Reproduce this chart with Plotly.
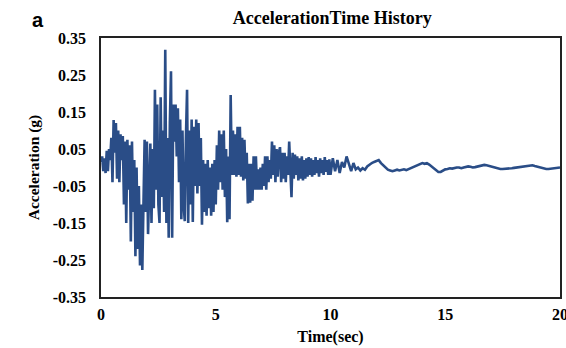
import plotly.graph_objects as go

# 0 - 10 s sampled every 0.05 s
acc_early = [
    0.015, 0.03, -0.01, 0.025, -0.015, 0.045, -0.01, 0.05, 0.02, 0.08,
    -0.04, 0.128, 0.04, 0.12, -0.03, 0.10, -0.04, 0.09, 0.02, 0.085,
    -0.10, 0.07, -0.15, 0.075, -0.06, 0.06, -0.20, 0.07, -0.12, 0.02,
    -0.24, 0.0, -0.22, -0.05, -0.265, -0.10, -0.277, -0.02, 0.075, -0.12,
    0.07, -0.18, 0.00, 0.065, -0.15, 0.05, -0.11, 0.21, -0.06, 0.17,
    -0.10, -0.15, 0.19, -0.08, 0.10, -0.12, 0.318, -0.15, 0.08, -0.19,
    0.12, 0.26, -0.19, 0.17, 0.07, 0.17, 0.03, 0.16, -0.04, 0.13,
    -0.14, 0.10, -0.10, -0.145, 0.08, 0.21, -0.15, 0.10, -0.10, 0.13,
    -0.147, 0.11, -0.05, 0.13, -0.07, 0.12, -0.05, 0.08, -0.155, 0.02,
    -0.12, 0.01, -0.13, 0.02, -0.11, 0.00, -0.13, 0.01, -0.12, 0.02,
    -0.10, 0.06, -0.06, 0.10, -0.04, 0.09, -0.06, 0.10, -0.08, 0.05,
    -0.148, 0.03, -0.14, 0.196, -0.02, 0.10, -0.02, 0.09, -0.025, 0.11,
    -0.02, 0.11, -0.025, 0.08, -0.035, 0.075, -0.03, 0.04, -0.097, 0.01,
    -0.095, 0.01, -0.09, 0.03, -0.06, 0.03, -0.06, -0.005, -0.06, 0.0,
    -0.06, 0.01, -0.05, 0.03, -0.06, 0.03, -0.04, 0.02, -0.03, 0.07,
    -0.02, 0.06, -0.04, 0.05, -0.025, 0.04, 0.055, -0.04, 0.04, -0.03,
    0.04, -0.04, 0.03, -0.02, 0.07, -0.03, -0.08, 0.04, -0.03, 0.035,
    -0.02, 0.03, -0.035, 0.025, -0.03, 0.03, -0.035, 0.02, -0.03, 0.025,
    -0.025, 0.028, -0.02, 0.025, -0.025, 0.02, -0.02, 0.028, -0.015, 0.02,
    -0.025, 0.025, -0.015, 0.02, -0.02, 0.028, -0.012, 0.02, -0.02, 0.022,
]
# 10 - 20 s sampled every 0.1 s
acc_late = [
    -0.02, 0.025, -0.01, 0.02, -0.015, 0.015, 0.0, 0.03, 0.01, -0.01,
    0.012, -0.005, 0.0, -0.008, -0.002, -0.006, 0.003, 0.008, 0.012, 0.015,
    0.018, 0.02, 0.012, 0.005, -0.002, -0.006, -0.008, -0.01, -0.008, -0.006,
    -0.008, -0.006, -0.005, -0.007, -0.004, -0.002, 0.0, 0.004, 0.008, 0.01,
    0.012, 0.01, 0.012, 0.008, 0.003, -0.003, -0.008, -0.012, -0.012, -0.008,
    -0.005, -0.004, -0.002, -0.003, -0.001, 0.0, 0.0, -0.002, 0.0, 0.002,
    0.003, 0.002, 0.0, 0.001, 0.003, 0.005, 0.006, 0.007, 0.006, 0.004,
    0.002, 0.0, -0.002, -0.003, -0.004, -0.004, -0.004, -0.004, -0.003, -0.002,
    -0.001, 0.0, 0.002, 0.003, 0.004, 0.005, 0.006, 0.006, 0.006, 0.004,
    0.002, 0.0, -0.002, -0.003, -0.004, -0.004, -0.003, -0.002, -0.001, 0.0,
    0.0,
]
dt_early = 0.05
dt_late = 0.1
time = [round(i * dt_early, 3) for i in range(len(acc_early))] + \
       [round(10.0 + j * dt_late, 3) for j in range(len(acc_late))]
acc = acc_early + acc_late

x_ticks = [0, 5, 10, 15, 20]
y_ticks = [0.35, 0.25, 0.15, 0.05, -0.05, -0.15, -0.25, -0.35]
y_tick_text = ["0.35", "0.25", "0.15", "0.05", "-0.05", "-0.15", "-0.25", "-0.35"]

serif = "Liberation Serif, Times New Roman, serif"

fig = go.Figure()
fig.add_trace(go.Scatter(
    x=time, y=acc, mode="lines",
    line=dict(color="#2a4d87", width=2.6),
    showlegend=False, hoverinfo="skip",
))

fig.update_layout(
    width=566, height=348,
    margin=dict(l=101, r=6, t=38, b=51, autoexpand=False),
    paper_bgcolor="white", plot_bgcolor="white",
    title=dict(text="<b>AccelerationTime History</b>", x=0.587, xanchor="center",
               y=0.948, yanchor="middle",
               font=dict(family=serif, size=18, color="black")),
    xaxis=dict(
        range=[0, 20], tickvals=x_ticks, ticktext=[f"<b>{v}</b>" for v in x_ticks],
        showgrid=False, zeroline=False, showline=True, mirror=True,
        linecolor="#222", linewidth=1.5, ticks="", automargin=False,
        ticklabeloverflow="allow",
        tickfont=dict(family=serif, size=16, color="black"),
        ticklabelstandoff=2,
        title=dict(text="<b>Time(sec)</b>", standoff=9,
                   font=dict(family=serif, size=16, color="black")),
    ),
    yaxis=dict(
        range=[-0.35, 0.35], tickvals=y_ticks,
        ticktext=[f"<b>{t}</b>" for t in y_tick_text],
        showgrid=False, zeroline=False, showline=True, mirror=True,
        linecolor="#222", linewidth=1.5, ticks="", automargin=False,
        tickfont=dict(family=serif, size=16, color="black"),
        ticklabelstandoff=10,
        title=dict(text="<b>Acceleration (g)</b>", standoff=9,
                   font=dict(family=serif, size=15.5, color="black")),
    ),
)

fig.add_annotation(text="<b>a</b>", xref="paper", yref="paper",
                   x=-0.137, y=1.07, xanchor="center", yanchor="middle",
                   showarrow=False,
                   font=dict(family="Liberation Sans, Arial, sans-serif", size=20, color="black"))

fig.write_html("out.html", config={"displayModeBar": False},
               post_script="document.body.style.margin='0';document.body.style.padding='0';")
